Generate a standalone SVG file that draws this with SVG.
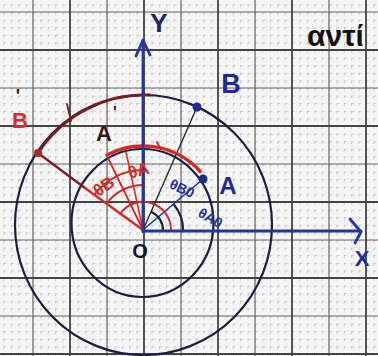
<svg xmlns="http://www.w3.org/2000/svg" width="378" height="356" viewBox="0 0 378 356">
<style>
.maj{stroke:#444;stroke-width:1.8;fill:none}
.maj2{stroke:#666;stroke-width:1.2;fill:none}
.navy{stroke:#1b1d45;stroke-width:2.2;fill:none}
.axis{stroke:#2236a6;stroke-width:2.8;fill:none;stroke-linecap:round;stroke-linejoin:round}
.red{stroke:#d42a25;fill:none;stroke-linecap:round}
.maroon{stroke:#7c1c1c;fill:none;stroke-linecap:round}
.lbl{font-family:"Liberation Sans",Arial,sans-serif;font-weight:bold}
</style>
<defs>
<pattern id="minor" x="33" y="12" width="7.4" height="7.6" patternUnits="userSpaceOnUse">
<path d="M0 0h3M0 0v3" stroke="#999" stroke-width="0.9"/>
</pattern>
</defs>
<rect width="378" height="356" fill="#f6f5f5"/>
<rect width="378" height="356" fill="url(#minor)"/>
<g id="grid">
<path class="maj2" d="M33 0V356M107 0V356M181 0V356M255 0V356M329 0V356M0 12H378M0 88H378M0 164H378M0 240H378M0 316H378"/>
<path class="maj" d="M70 0V356M144 0V356M218 0V356M292 0V356M366 0V356M0 50H378M0 126H378M0 202H378M0 278H378M0 354H378"/>
</g>
<g id="circles">
<ellipse class="navy" cx="143.5" cy="225" rx="128.5" ry="130"/>
<ellipse class="navy" cx="142.5" cy="223" rx="71" ry="74"/>
<path class="maroon" stroke-width="2.8" d="M38 153A128.5 130 0 0 1 150 95"/>
<line class="maroon" stroke-width="1.8" x1="67" y1="104" x2="71" y2="121"/>
</g>
<g id="connectors">
<line x1="143" y1="230" x2="197" y2="107" stroke="#222" stroke-width="1.3"/>
<line x1="143" y1="230" x2="203" y2="179" stroke="#22307e" stroke-width="1.5"/>
<line class="maroon" stroke-width="2.2" x1="38" y1="153" x2="85" y2="188"/>
<line class="red" stroke-width="2.4" x1="85" y1="188" x2="143" y2="230"/>
<line class="red" stroke-width="1.8" x1="143" y1="230" x2="108" y2="158"/>
<line class="red" stroke-width="1.5" x1="143" y1="230" x2="126" y2="152"/>
<path class="red" stroke-width="3.4" d="M106.9 155A77 77 0 0 1 200.2 171.5"/>
<line class="red" stroke-width="1.8" x1="157" y1="142" x2="161" y2="150"/>
<path class="red" stroke-width="2" d="M171 230A28 28 0 0 0 120.3 213.5"/>
<path class="red" stroke-width="2" d="M143 185A45 45 0 0 0 106.6 203.5"/>
<path class="red" stroke-width="2" d="M143 170A60 60 0 0 0 94.5 194.7"/>
<path class="navy" stroke-width="1.7" d="M163 230A20 20 0 0 0 151.1 211.7"/>
<path class="navy" stroke-width="1.7" d="M183 230A40 40 0 0 0 173.6 204.3"/>
</g>
<g id="axes">
<line class="axis" x1="143" y1="232" x2="143" y2="41"/>
<polyline class="axis" points="136,56 143,40 150,55"/>
<line class="axis" x1="143" y1="231" x2="361" y2="231"/>
<polyline class="axis" points="350,219 361,232 355,243"/>
<text class="lbl" x="159" y="32" font-size="26" fill="#1b2070" text-anchor="middle">Y</text>
<text class="lbl" x="362" y="266" font-size="22" fill="#1f2f9a" text-anchor="middle">X</text>
<text class="lbl" x="140" y="258" font-size="20" fill="#151530" text-anchor="middle">O</text>
</g>
<g id="B">
<circle cx="197" cy="107" r="4.5" fill="#1f2a8e"/>
<text class="lbl" x="231" y="93" font-size="27" fill="#1f2a9a" text-anchor="middle">B</text>
</g>
<g id="A">
<circle cx="203" cy="179" r="4.5" fill="#1f2a8e"/>
<text class="lbl" x="228" y="194" font-size="24" fill="#1f2a9a" text-anchor="middle">A</text>
</g>
<g id="Bp">
<circle cx="38" cy="153" r="4" fill="#b02424"/>
<text class="lbl" x="20" y="128" font-size="22" fill="#d3302c" text-anchor="middle">B</text>
<text class="lbl" x="18" y="102" font-size="18" fill="#3a1515" text-anchor="middle">'</text>
</g>
<g id="Ap">
<text class="lbl" x="104" y="141" font-size="22" fill="#3a1616" text-anchor="middle">A</text>
<text class="lbl" x="115" y="118" font-size="16" fill="#3a1515" text-anchor="middle">'</text>
</g>
<g id="angles">
<text class="lbl" font-size="17" fill="#d42a25" text-anchor="middle" transform="translate(107,191) rotate(-35)">θB</text>
<text class="lbl" font-size="17" fill="#d42a25" text-anchor="middle" transform="translate(140,176) rotate(-15)">θA</text>
<text class="lbl" font-size="14" fill="#2232a8" text-anchor="middle" transform="translate(180,193) rotate(25)">θB0</text>
<text class="lbl" font-size="14" fill="#2232a8" text-anchor="middle" transform="translate(208,222) rotate(30)">θA0</text>
</g>
<text class="lbl" x="307" y="46" font-size="30" fill="#111" font-weight="normal">αντί</text>
</svg>
